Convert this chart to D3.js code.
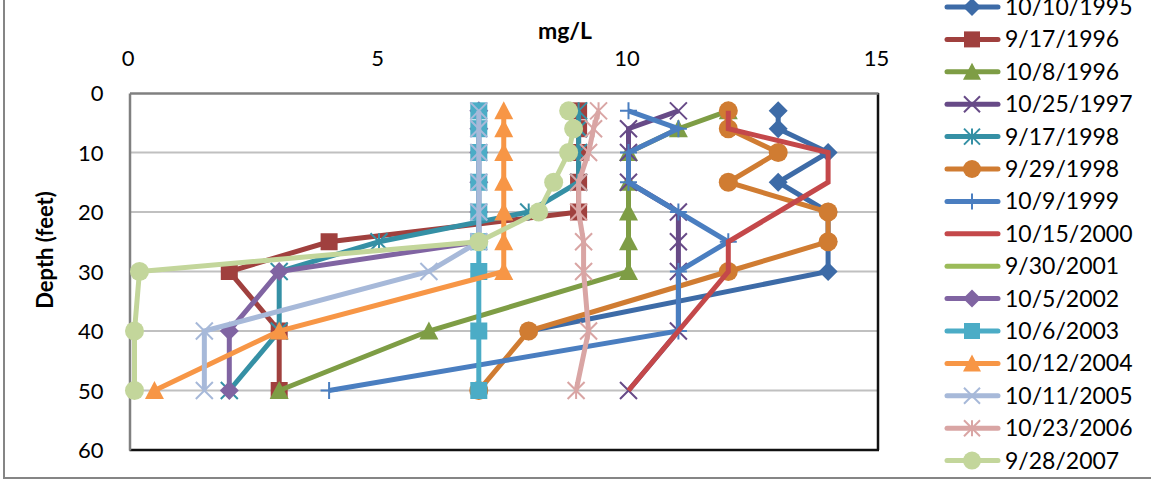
<!DOCTYPE html>
<html><head><meta charset="utf-8">
<script src="https://cdn.jsdelivr.net/npm/d3@7"></script>
<style>
html,body{margin:0;padding:0;background:#fff;}
svg{display:block;font-family:Lato, "Open Sans", sans-serif;}
</style></head>
<body>
<svg id="chart" width="1151" height="481"></svg>
<script>
// ---- data ----
const depths = [3, 6, 10, 15, 20, 25, 30, 40, 50];
const seriesNames = ["10/10/1995","9/17/1996","10/8/1996","10/25/1997","9/17/1998","9/29/1998","10/9/1999","10/15/2000","9/30/2001","10/5/2002","10/6/2003","10/12/2004","10/11/2005","10/23/2006","9/28/2007"];
const s1995_10_10 = [13, 13, 14, 13, 14, 14, 14, 8, null];
const s1996_09_17 = [9, 9, 9, 9, 9, 4, 2, 3, 3];
const s1996_10_08 = [12, 11, 10, 10, 10, 10, 10, 6, 3];
const s1997_10_25 = [11, 10, 10, 10, 11, 11, 11, 11, 10];
const s1998_09_17 = [9, 9, 9, 9, 8, 5, 3, 3, 2];
const s1998_09_29 = [12, 12, 13, 12, 14, 14, 12, 8, 7];
const s1999_10_09 = [10, 11, 10, 10, 11, 12, 11, 11, 4];
const s2000_10_15 = [12, 12, 14, 14, 13, 12, 12, 11, 10];
const s2001_09_30 = [null, null, null, null, null, null, null, null, null];
const s2002_10_05 = [7, 7, 7, 7, 7, 7, 3, 2, 2];
const s2003_10_06 = [7, 7, 7, 7, 7, 7, 7, 7, 7];
const s2004_10_12 = [7.5, 7.5, 7.5, 7.5, 7.5, 7.5, 7.5, 3, 0.5];
const s2005_10_11 = [7, 7, 7, 7, 7, 7, 6, 1.5, 1.5];
const s2006_10_23 = [9.4, 9.3, 9.2, 9.0, 9.0, 9.1, 9.1, 9.2, 8.95];
const s2007_09_28 = [8.8, 8.9, 8.8, 8.5, 8.2, 7, 0.2, 0.1, 0.1];
const seriesValues = [s1995_10_10, s1996_09_17, s1996_10_08, s1997_10_25, s1998_09_17, s1998_09_29, s1999_10_09, s2000_10_15, s2001_09_30, s2002_10_05, s2003_10_06, s2004_10_12, s2005_10_11, s2006_10_23, s2007_09_28];
const xTicks = [0, 5, 10, 15];
const yTicks = [0, 10, 20, 30, 40, 50, 60];

// ---- styles ----
const colors = ["#3D6BA7","#A0403E","#7E9D45","#674A87","#3590A5","#D07C32","#4A7EC0","#C4484A","#9BBB59","#8064A2","#4BACC6","#F79646","#A7B9D9","#D9A5A4","#C3D69B"];
const markers = ["diamond","square","triangle","x","star","circle","plus","none","none","diamond","square","triangle","x","star","circle"];

const svg = d3.select("#chart");
const plot = {left: 129.5, right: 878, top: 93, bottom: 450};

// outer chart border
svg.append("rect").attr("x", 4).attr("y", -10).attr("width", 1170).attr("height", 488)
  .attr("fill", "#fff").attr("stroke", "#858585").attr("stroke-width", 2);

const x = d3.scaleLinear().domain([0, 15]).range([plot.left, plot.right]);
const y = d3.scaleLinear().domain([0, 60]).range([plot.top, plot.bottom]);

// gridlines
svg.append("g").selectAll("line").data(yTicks.filter(d => d > 0 && d < 60)).join("line")
  .attr("x1", plot.left).attr("x2", plot.right)
  .attr("y1", d => y(d)).attr("y2", d => y(d))
  .attr("stroke", "#C0C0C0").attr("stroke-width", 2);

// plot border (right/bottom black)
svg.append("line").attr("x1", plot.right).attr("x2", plot.right).attr("y1", plot.top).attr("y2", plot.bottom)
  .attr("stroke", "#111").attr("stroke-width", 2.5);
svg.append("line").attr("x1", plot.left).attr("x2", plot.right + 1).attr("y1", plot.bottom).attr("y2", plot.bottom)
  .attr("stroke", "#111").attr("stroke-width", 2.5);

// axes
const xAxis = d3.axisTop(x).tickValues(xTicks).tickSize(0).tickPadding(0).tickFormat(d3.format("d"));
const gx = svg.append("g").attr("transform", `translate(0,${plot.top})`).call(xAxis);
gx.select(".domain").attr("stroke", "#808080").attr("stroke-width", 2.5);
gx.selectAll("text").attr("y", -35).attr("dy", "0.35em").attr("font-size", 22).attr("fill", "#000")
  .attr("font-family", "Lato, sans-serif").attr("dx", -2);

const yAxis = d3.axisLeft(y).tickValues(yTicks).tickSize(0).tickPadding(0).tickFormat(d3.format("d"));
const gy = svg.append("g").attr("transform", `translate(${plot.left},0)`).call(yAxis);
gy.select(".domain").attr("stroke", "#808080").attr("stroke-width", 2.5);
gy.selectAll("text").attr("x", -26).attr("dy", "0.35em").attr("font-size", 22).attr("fill", "#000")
  .attr("font-family", "Lato, sans-serif");

// axis titles
svg.append("text").attr("x", 565).attr("y", 31).attr("dy", "0.35em").attr("text-anchor", "middle")
  .attr("font-size", 23).attr("font-weight", "bold").attr("fill", "#000").text("mg/L");
svg.append("text").attr("transform", `translate(45,250) rotate(-90)`).attr("dy", "0.35em")
  .attr("text-anchor", "middle").attr("font-size", 22).attr("font-weight", "bold").attr("fill", "#000")
  .text("Depth (feet)");

// marker drawing
function drawMarker(g, type, color, cx, cy, s) {
  const h = s / 2;
  if (type === "diamond") {
    g.append("path").attr("d", `M${cx},${cy-h-1}L${cx+h+1},${cy}L${cx},${cy+h+1}L${cx-h-1},${cy}Z`).attr("fill", color);
  } else if (type === "square") {
    g.append("rect").attr("x", cx - h).attr("y", cy - h).attr("width", s).attr("height", s).attr("fill", color);
  } else if (type === "triangle") {
    g.append("path").attr("d", `M${cx},${cy-h-1}L${cx+h+1},${cy+h}L${cx-h-1},${cy+h}Z`).attr("fill", color);
  } else if (type === "circle") {
    g.append("circle").attr("cx", cx).attr("cy", cy).attr("r", h + 1).attr("fill", color);
  } else if (type === "x") {
    g.append("path").attr("d", `M${cx-h},${cy-h}L${cx+h},${cy+h}M${cx-h},${cy+h}L${cx+h},${cy-h}`)
      .attr("stroke", color).attr("stroke-width", 2).attr("fill", "none");
  } else if (type === "star") {
    g.append("path").attr("d", `M${cx-h},${cy-h}L${cx+h},${cy+h}M${cx-h},${cy+h}L${cx+h},${cy-h}M${cx},${cy-h}L${cx},${cy+h}`)
      .attr("stroke", color).attr("stroke-width", 2).attr("fill", "none");
  } else if (type === "plus") {
    g.append("path").attr("d", `M${cx-h},${cy}L${cx+h},${cy}M${cx},${cy-h}L${cx},${cy+h}`)
      .attr("stroke", color).attr("stroke-width", 2).attr("fill", "none");
  }
}

const line = d3.line().defined(d => d.v != null).x(d => x(d.v)).y(d => y(d.d));
const plotG = svg.append("g");
seriesValues.forEach((vals, i) => {
  const pts = depths.map((d, k) => ({d: d, v: vals[k]}));
  const g = plotG.append("g");
  g.append("path").datum(pts).attr("d", line).attr("fill", "none")
    .attr("stroke", colors[i]).attr("stroke-width", 5).attr("stroke-linejoin", "miter");
  pts.filter(p => p.v != null).forEach(p => drawMarker(g, markers[i], colors[i], x(p.v), y(p.d), 17));
});

// legend
const leg = svg.append("g");
seriesNames.forEach((name, i) => {
  const cy = 7 + i * 32.4;
  const g = leg.append("g");
  g.append("line").attr("x1", 947).attr("x2", 998).attr("y1", cy).attr("y2", cy)
    .attr("stroke", colors[i]).attr("stroke-width", 5).attr("stroke-linecap", "round");
  drawMarker(g, markers[i], colors[i], 972, cy, 16);
  g.append("text").attr("x", 1005).attr("y", cy).attr("dy", "0.35em").attr("font-size", 23)
    .attr("fill", "#000").text(name);
});
</script>
</body></html>
